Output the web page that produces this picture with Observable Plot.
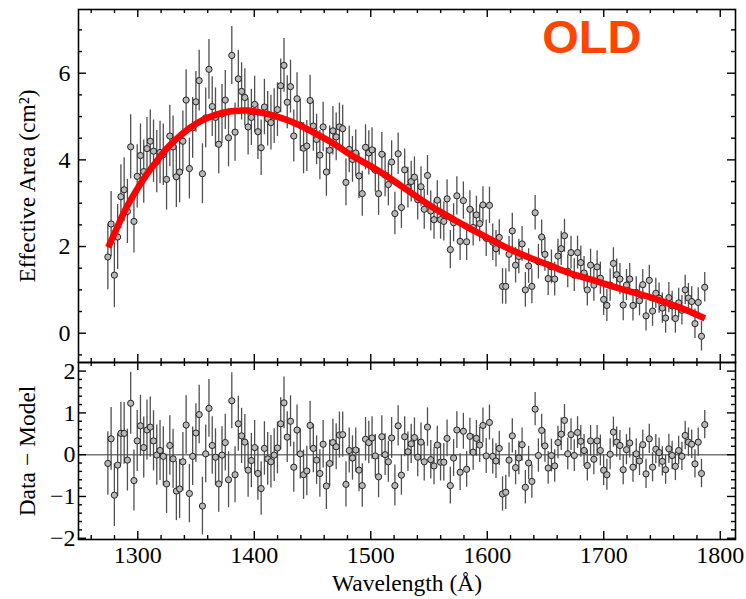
<!DOCTYPE html>
<html><head><meta charset="utf-8">
<script src="https://cdn.jsdelivr.net/npm/d3@7"></script>
<script src="https://cdn.jsdelivr.net/npm/@observablehq/plot@0.6"></script>
<style>
body{margin:0;background:#fff;}
#chart{width:746px;height:599px;}
#chart svg{display:block;overflow:visible;}
</style></head><body><div id="chart"></div>
<script>
// Wavelength grid (Å)
const wavelength = [
1274.3,1277.1,1279.9,1282.7,1285.5,1288.3,1291.1,1293.9,1296.7,1299.5,
1302.3,1305.1,1307.9,1310.7,1313.5,1316.3,1319.1,1321.9,1324.7,1327.5,
1330.3,1333.1,1335.9,1338.7,1341.5,1344.3,1347.1,1349.9,1352.7,1355.5,
1358.3,1361.1,1363.9,1366.7,1369.5,1372.3,1375.1,1377.9,1380.7,1383.5,
1386.3,1389.1,1391.9,1394.7,1397.5,1400.3,1403.1,1405.9,1408.7,1411.5,
1414.3,1417.1,1419.9,1422.7,1425.5,1428.3,1431.1,1433.9,1436.7,1439.5,
1442.3,1445.1,1447.9,1450.7,1453.5,1456.3,1459.1,1461.9,1464.7,1467.5,
1470.3,1473.1,1475.9,1478.7,1481.5,1484.3,1487.1,1489.9,1492.7,1495.5,
1498.3,1501.1,1503.9,1506.7,1509.5,1512.3,1515.1,1517.9,1520.7,1523.5,
1526.3,1529.1,1531.9,1534.7,1537.5,1540.3,1543.1,1545.9,1548.7,1551.5,
1554.3,1557.1,1559.9,1562.7,1565.5,1568.3,1571.1,1573.9,1576.7,1579.5,
1582.3,1585.1,1587.9,1590.7,1593.5,1596.3,1599.1,1601.9,1604.7,1607.5,
1610.3,1613.1,1615.9,1618.7,1621.5,1624.3,1627.1,1629.9,1632.7,1635.5,
1638.3,1641.1,1643.9,1646.7,1649.5,1652.3,1655.1,1657.9,1660.7,1663.5,
1666.3,1669.1,1671.9,1674.7,1677.5,1680.3,1683.1,1685.9,1688.7,1691.5,
1694.3,1697.1,1699.9,1702.7,1705.5,1708.3,1711.1,1713.9,1716.7,1719.5,
1722.3,1725.1,1727.9,1730.7,1733.5,1736.3,1739.1,1741.9,1744.7,1747.5,
1750.3,1753.1,1755.9,1758.7,1761.5,1764.3,1767.1,1769.9,1772.7,1775.5,
1778.3,1781.1,1783.9,1786.7];

// Measured effective area (cm^2)
const effArea = [
1.76,2.52,1.34,2.22,3.15,3.31,2.81,4.30,2.58,3.62,
4.10,3.73,4.26,4.43,4.20,3.96,4.17,4.12,3.55,4.55,
4.30,3.61,3.72,4.43,5.38,3.80,4.74,5.34,5.83,3.68,
4.97,6.09,5.23,4.98,4.36,5.06,5.38,4.51,6.41,4.64,
5.87,5.58,5.44,4.76,4.98,5.28,4.65,4.28,5.22,4.95,
4.86,5.01,5.16,5.71,6.18,5.33,5.69,4.55,5.41,4.80,
4.27,4.32,5.37,4.78,4.47,4.11,4.76,3.72,4.22,4.67,
4.53,4.76,4.72,3.48,4.24,4.01,4.16,3.63,3.22,4.29,
4.16,4.23,3.76,3.22,4.13,3.65,3.43,3.95,2.76,4.14,
2.90,3.77,3.36,3.50,3.60,3.08,3.38,2.86,3.64,2.82,
2.62,3.07,2.62,2.58,3.10,1.93,2.55,3.17,2.12,3.06,
2.11,2.86,2.44,2.73,2.53,2.96,2.19,2.95,2.10,1.95,
2.21,1.08,1.08,1.82,2.36,1.57,1.77,2.06,1.00,1.55,
1.08,2.78,1.65,2.22,1.82,1.26,1.53,1.25,1.78,1.95,
2.25,1.43,1.86,1.34,1.86,1.63,1.39,1.00,1.57,1.11,
1.53,1.27,0.78,0.64,1.11,1.61,1.35,1.25,0.65,1.11,
1.25,0.64,0.94,0.75,1.12,0.40,1.22,0.51,0.92,0.81,
0.58,0.35,0.82,0.63,0.34,0.70,0.53,1.00,0.81,0.73,
0.22,0.71,-0.07,1.06];

// 1-sigma error bars
const errBar = [
0.76,0.75,0.75,0.75,0.74,0.74,0.74,0.74,0.73,0.73,
0.73,0.73,0.72,0.72,0.72,0.72,0.72,0.71,0.71,0.71,
0.71,0.71,0.71,0.70,0.70,0.70,0.70,0.70,0.70,0.69,
0.69,0.69,0.69,0.68,0.68,0.68,0.68,0.67,0.67,0.67,
0.66,0.66,0.66,0.65,0.65,0.65,0.64,0.64,0.64,0.63,
0.63,0.63,0.62,0.62,0.62,0.61,0.61,0.60,0.60,0.60,
0.59,0.59,0.58,0.58,0.58,0.57,0.57,0.56,0.56,0.56,
0.55,0.55,0.54,0.54,0.54,0.53,0.53,0.52,0.52,0.52,
0.51,0.51,0.51,0.50,0.50,0.50,0.49,0.49,0.49,0.48,
0.48,0.48,0.47,0.47,0.47,0.47,0.46,0.46,0.46,0.46,
0.45,0.45,0.45,0.45,0.44,0.44,0.44,0.44,0.44,0.43,
0.43,0.43,0.43,0.43,0.42,0.42,0.42,0.42,0.42,0.42,
0.41,0.41,0.41,0.41,0.41,0.41,0.40,0.40,0.40,0.40,
0.40,0.40,0.40,0.39,0.39,0.39,0.39,0.39,0.39,0.39,
0.38,0.38,0.38,0.38,0.38,0.38,0.38,0.37,0.37,0.37,
0.37,0.37,0.37,0.37,0.37,0.36,0.36,0.36,0.36,0.36,
0.36,0.36,0.36,0.35,0.35,0.35,0.35,0.35,0.35,0.35,
0.35,0.35,0.35,0.34,0.34,0.34,0.34,0.34,0.34,0.34,
0.34,0.34,0.34,0.34];

// Data - Model residuals
const residual = [
-0.21,0.38,-0.97,-0.25,0.51,0.51,-0.13,1.23,-0.62,0.33,
0.69,0.17,0.59,0.66,0.33,-0.01,0.10,-0.04,-0.70,0.22,
-0.10,-0.87,-0.82,-0.17,0.71,-0.93,-0.04,0.52,0.96,-1.23,
0.02,1.11,0.22,-0.06,-0.70,-0.01,0.29,-0.60,1.29,-0.48,
0.74,0.45,0.30,-0.37,-0.14,0.17,-0.45,-0.81,0.15,-0.10,
-0.17,-0.01,0.16,0.74,1.24,0.42,0.80,-0.30,0.59,0.02,
-0.48,-0.39,0.70,0.15,-0.13,-0.45,0.25,-0.75,-0.21,0.29,
0.19,0.47,0.48,-0.71,0.10,-0.08,0.11,-0.37,-0.74,0.37,
0.29,0.40,-0.03,-0.53,0.43,0.00,-0.17,0.40,-0.74,0.69,
-0.49,0.43,0.07,0.26,0.41,-0.06,0.30,-0.17,0.66,-0.12,
-0.27,0.23,-0.18,-0.18,0.39,-0.74,-0.08,0.59,-0.42,0.56,
-0.35,0.44,0.06,0.39,0.23,0.70,-0.03,0.77,-0.04,-0.15,
0.15,-0.94,-0.90,-0.13,0.45,-0.31,-0.08,0.24,-0.78,-0.20,
-0.64,1.09,-0.02,0.58,0.21,-0.32,-0.02,-0.27,0.29,0.49,
0.82,0.02,0.48,-0.02,0.53,0.32,0.10,-0.26,0.33,-0.11,
0.33,0.10,-0.37,-0.48,0.01,0.54,0.30,0.22,-0.36,0.12,
0.28,-0.30,0.02,-0.15,0.24,-0.46,0.38,-0.30,0.13,0.05,
-0.16,-0.36,0.14,-0.02,-0.28,0.10,-0.04,0.46,0.30,0.25,
-0.22,0.30,-0.45,0.72];

// Model curve
const modelWave = [1274.6,1280.3,1288.5,1297.1,1306.5,1315.1,1324.5,1334.0,1344.3,1355.2,1366.6,1380.3,1393.2,1405.8,1418.1,1431.0,1443.9,1456.7,1469.6,1482.5,1492.8,1506.5,1521.1,1534.0,1547.7,1559.7,1573.5,1585.5,1598.4,1613.0,1626.7,1641.3,1654.2,1666.2,1679.9,1693.6,1707.4,1722.8,1737.4,1752.9,1770.0,1786.8];
const modelArea = [1.98,2.32,2.81,3.22,3.62,3.93,4.25,4.50,4.73,4.91,5.04,5.12,5.14,5.09,5.01,4.89,4.73,4.55,4.35,4.12,3.96,3.75,3.49,3.25,3.00,2.80,2.59,2.41,2.23,2.02,1.85,1.69,1.56,1.43,1.31,1.20,1.08,0.96,0.85,0.71,0.54,0.34];

// Ticks
const xMajor = [1300,1400,1500,1600,1700,1800];
const xMinor = [1260,1280,1320,1340,1360,1380,1420,1440,1460,1480,1520,1540,1560,1580,1620,1640,1660,1680,1720,1740,1760,1780];
const topMajor = [0,2,4,6];
const topMinor = [-0.5,0.5,1,1.5,2.5,3,3.5,4.5,5,5.5,6.5,7];
const botMajor = [-2,-1,0,1,2];
const botMinor = [-1.8,-1.6,-1.4,-1.2,-0.8,-0.6,-0.4,-0.2,0.2,0.4,0.6,0.8,1.2,1.4,1.6,1.8];

const points = wavelength.map((w, i) => ({w, a: effArea[i], e: errBar[i], r: residual[i]}));
const model = modelWave.map((w, i) => ({w, a: modelArea[i]}));

const W = 746, ML = 78, MR = 11;
const innerW = W - ML - MR;
const xDomain = [1249.1, 1813.1];
const MAJ = 8, MIN = 4;
const fmt = d => (d < 0 ? "\u2212" + Math.abs(d) : String(d));

function frameTicks(innerH, yMaj, yMin) {
  const o = {stroke: "#000", strokeWidth: 1.4};
  return [
    Plot.ruleX(xMajor, {...o, insetTop: innerH - MAJ}),
    Plot.ruleX(xMinor, {...o, insetTop: innerH - MIN}),
    Plot.ruleX(xMajor, {...o, insetBottom: innerH - MAJ}),
    Plot.ruleX(xMinor, {...o, insetBottom: innerH - MIN}),
    Plot.ruleY(yMaj, {...o, insetRight: innerW - MAJ}),
    Plot.ruleY(yMin, {...o, insetRight: innerW - MIN}),
    Plot.ruleY(yMaj, {...o, insetLeft: innerW - MAJ}),
    Plot.ruleY(yMin, {...o, insetLeft: innerW - MIN})
  ];
}

const font = "'Liberation Serif', 'Times New Roman', serif";
const baseStyle = {fontFamily: font, fontSize: "24px", background: "transparent", color: "#000", overflow: "visible"};

const topH = 362, topMT = 9;
const topPlot = Plot.plot({
  width: W, height: topH,
  marginTop: topMT, marginBottom: 0, marginLeft: ML, marginRight: MR,
  style: baseStyle,
  x: {domain: xDomain, axis: null},
  y: {domain: [-0.676, 7.47], axis: null},
  marks: [
    Plot.ruleX(points, {x: "w", y1: d => d.a - d.e, y2: d => d.a + d.e, stroke: "#505050", strokeWidth: 1.3}),
    Plot.dot(points, {x: "w", y: "a", r: 3.1, fill: "#b8b8b8", stroke: "#222", strokeWidth: 1}),
    Plot.line(model, {x: "w", y: "a", stroke: "#ff0000", strokeWidth: 6.5, curve: "catmull-rom", strokeLinecap: "butt"}),
    ...frameTicks(topH - topMT, topMajor, topMinor),
    Plot.frame({stroke: "#000", strokeWidth: 1.6}),
    Plot.axisY({ticks: topMajor, anchor: "left", tickSize: 0, tickPadding: 8, label: null, tickFormat: fmt}),
    Plot.text(["Effective Area (cm²)"], {text: d => d, frameAnchor: "left", dx: -51, rotate: -90, textAnchor: "middle", lineAnchor: "middle", fontSize: 23.5}),
    Plot.text(["OLD"], {text: d => d, frameAnchor: "top-right", dx: -94, dy: 10, textAnchor: "end", lineAnchor: "top", fontSize: 47, fontWeight: "bold", fontFamily: "'Liberation Sans', Arial, sans-serif", fill: "#ff4500"})
  ]
});

const botH = 237, botMB = 60;
const bottomPlot = Plot.plot({
  width: W, height: botH,
  marginTop: 0, marginBottom: botMB, marginLeft: ML, marginRight: MR,
  style: baseStyle,
  x: {domain: xDomain, axis: null},
  y: {domain: [-2.03, 2.206], axis: null},
  marks: [
    Plot.ruleY([0], {stroke: "#777", strokeWidth: 1.4}),
    Plot.ruleX(points, {x: "w", y1: d => d.r - d.e, y2: d => d.r + d.e, stroke: "#505050", strokeWidth: 1.3}),
    Plot.dot(points, {x: "w", y: "r", r: 3.1, fill: "#b8b8b8", stroke: "#222", strokeWidth: 1}),
    ...frameTicks(botH - botMB, botMajor, botMinor),
    Plot.frame({stroke: "#000", strokeWidth: 1.6}),
    Plot.axisY({ticks: botMajor, anchor: "left", tickSize: 0, tickPadding: 3, label: null, tickFormat: fmt}),
    Plot.axisX({ticks: xMajor, anchor: "bottom", tickSize: 0, tickPadding: 6, label: null, tickFormat: fmt}),
    Plot.text(["Data − Model"], {text: d => d, frameAnchor: "left", dx: -51, rotate: -90, textAnchor: "middle", lineAnchor: "middle", fontSize: 23.5}),
    Plot.text(["Wavelength (Å)"], {text: d => d, frameAnchor: "bottom", dy: 44, textAnchor: "middle", lineAnchor: "middle", fontSize: 23.5})
  ]
});

const chart = document.getElementById("chart");
chart.appendChild(topPlot);
chart.appendChild(bottomPlot);
</script></body></html>
